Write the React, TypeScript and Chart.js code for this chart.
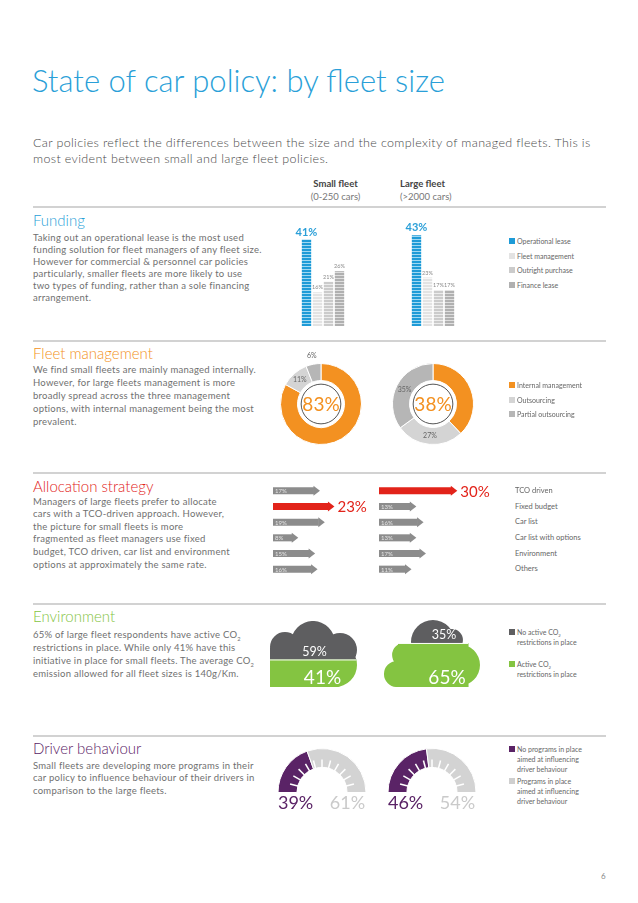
import React, { useEffect, useRef } from 'react';
import { Chart, registerables } from 'chart.js';
Chart.register(...registerables);

// ---------- DATA ----------
const fundingCategories = ['Operational lease', 'Fleet management', 'Outright purchase', 'Finance lease'];
const fundingSmall = [41, 16, 21, 26];
const fundingLarge = [43, 23, 17, 17];

const fleetMgmtCategories = ['Internal management', 'Outsourcing', 'Partial outsourcing'];
const fleetMgmtSmall = [83, 11, 6];
const fleetMgmtLarge = [38, 27, 35];

const allocationCategories = ['TCO driven', 'Fixed budget', 'Car list', 'Car list with options', 'Environment', 'Others'];
const allocationSmall = [17, 23, 19, 8, 15, 16];
const allocationLarge = [30, 13, 16, 13, 17, 11];

const environmentCategories = ['No active CO2 restrictions in place', 'Active CO2 restrictions in place'];
const environmentSmall = [59, 41];
const environmentLarge = [35, 65];

const driverCategories = ['No programs in place aimed at influencing driver behaviour', 'Programs in place aimed at influencing driver behaviour'];
const driverSmall = [39, 61];
const driverLarge = [46, 54];

// ---------- STYLE ----------
const FONT = 'Lato, "Open Sans", sans-serif';
const BLUE = '#2a9fd8';
const ORANGE = '#f39121';
const RED = '#e2231a';
const GREEN = '#84c441';
const DARK = '#5e5e60';
const PURPLE = '#5a2366';
const TEXT = '#707070';

const fundingColors = ['#1e9bd7', '#e3e3e3', '#cbcbcb', '#b0b0b0'];
const fundingStripes = ['#9fd8f2', '#f7f7f7', '#ececec', '#dedede'];
const fleetColors = [ORANGE, '#d4d4d4', '#b6b6b6'];

function stripePattern(color: string, light: string) {
  const c = document.createElement('canvas');
  c.width = 4;
  c.height = 3;
  const g = c.getContext('2d')!;
  g.fillStyle = color;
  g.fillRect(0, 0, 4, 3);
  g.fillStyle = light;
  g.fillRect(0, 2, 4, 1);
  return g.createPattern(c, 'repeat')!;
}

function ChartBox({ left, top, width, height, make }: { left: number; top: number; width: number; height: number; make: () => any }) {
  const ref = useRef<HTMLCanvasElement>(null);
  useEffect(() => {
    const chart = new Chart(ref.current!, make());
    return () => chart.destroy();
  }, []);
  return (
    <canvas
      ref={ref}
      width={width}
      height={height}
      style={{ position: 'absolute', left, top, width, height }}
    />
  );
}

const baseOpts = {
  responsive: false,
  animation: false as const,
  devicePixelRatio: 1,
  events: [] as any[],
  plugins: { legend: { display: false }, tooltip: { enabled: false } },
};

// ---------- CHART CONFIGS ----------
function fundingConfig() {
  const labelPlugin = {
    id: 'fundingLabels',
    afterDatasetsDraw(chart: any) {
      const ctx = chart.ctx;
      chart.data.datasets.forEach((ds: any, di: number) => {
        chart.getDatasetMeta(di).data.forEach((el: any, j: number) => {
          ctx.save();
          ctx.textAlign = 'center';
          ctx.textBaseline = 'bottom';
          if (di === 0) {
            ctx.fillStyle = BLUE;
            ctx.font = `bold 11px ${FONT}`;
            ctx.fillText(ds.data[j] + '%', el.x, el.y - 2);
          } else {
            ctx.fillStyle = '#8a8a8a';
            ctx.font = `5.5px ${FONT}`;
            ctx.fillText(ds.data[j] + '%', el.x, el.y - 2);
          }
          ctx.restore();
        });
      });
    },
  };
  return {
    type: 'bar',
    data: {
      labels: ['Small fleet', 'Large fleet'],
      datasets: fundingCategories.map((name, i) => ({
        label: name,
        data: [fundingSmall[i], fundingLarge[i]],
        backgroundColor: stripePattern(fundingColors[i], fundingStripes[i]),
        categoryPercentage: 0.4,
        barPercentage: 0.85,
      })),
    },
    options: {
      ...baseOpts,
      scales: {
        x: { display: false },
        y: { display: false, min: 0, max: 55 },
      },
    },
    plugins: [labelPlugin],
  };
}

function donutConfig(values: number[]) {
  const decor = {
    id: 'donutDecor',
    afterDatasetsDraw(chart: any) {
      const ctx = chart.ctx;
      const arcs = chart.getDatasetMeta(0).data;
      const a0 = arcs[0];
      const cx = a0.x, cy = a0.y;
      const outer = a0.outerRadius, inner = a0.innerRadius;
      ctx.save();
      ctx.beginPath();
      ctx.arc(cx, cy, outer * 0.49, 0, Math.PI * 2);
      ctx.strokeStyle = '#555';
      ctx.lineWidth = 1;
      ctx.stroke();
      ctx.fillStyle = ORANGE;
      ctx.font = `19px ${FONT}`;
      ctx.textAlign = 'center';
      ctx.textBaseline = 'middle';
      ctx.fillText(values[0] + '%', cx, cy + 1);
      ctx.font = `7px ${FONT}`;
      ctx.fillStyle = '#666';
      arcs.forEach((arc: any, i: number) => {
        if (i === 0) return;
        const mid = (arc.startAngle + arc.endAngle) / 2;
        const r = values[i] < 8 ? outer + 9 : (inner + outer) / 2;
        ctx.fillText(values[i] + '%', cx + Math.cos(mid) * r, cy + Math.sin(mid) * r);
      });
      ctx.restore();
    },
  };
  return {
    type: 'doughnut',
    data: {
      labels: fleetMgmtCategories,
      datasets: [{ data: values, backgroundColor: fleetColors, borderWidth: 1, borderColor: '#fff' }],
    },
    options: { ...baseOpts, cutout: '58%', layout: { padding: 19 } },
    plugins: [decor],
  };
}

function allocationConfig(values: number[], max: number) {
  const top = Math.max(...values);
  const arrows = {
    id: 'arrows',
    afterDatasetsDraw(chart: any) {
      const ctx = chart.ctx;
      chart.getDatasetMeta(0).data.forEach((el: any, i: number) => {
        const hi = values[i] === top;
        ctx.save();
        ctx.fillStyle = hi ? RED : '#8c8c8c';
        ctx.beginPath();
        ctx.moveTo(el.x - 0.5, el.y - 5);
        ctx.lineTo(el.x + 6, el.y);
        ctx.lineTo(el.x - 0.5, el.y + 5);
        ctx.closePath();
        ctx.fill();
        ctx.textBaseline = 'middle';
        if (hi) {
          ctx.font = `15px ${FONT}`;
          ctx.fillStyle = RED;
          ctx.fillText(values[i] + '%', el.x + 9, el.y + 1);
        } else {
          ctx.font = `6px ${FONT}`;
          ctx.fillStyle = '#e4e4e4';
          ctx.fillText(values[i] + '%', el.base + 2, el.y + 0.5);
        }
        ctx.restore();
      });
    },
  };
  return {
    type: 'bar',
    data: {
      labels: allocationCategories,
      datasets: [{
        data: values,
        backgroundColor: values.map(v => (v === top ? RED : '#8c8c8c')),
        barPercentage: 0.45,
        categoryPercentage: 1,
      }],
    },
    options: {
      ...baseOpts,
      indexAxis: 'y',
      scales: { x: { display: false, min: 0, max }, y: { display: false } },
    },
    plugins: [arrows],
  };
}

type Blob = { u: number; v: number; r?: number; w?: number; h?: number };

function cloudConfig(values: number[], shape: Blob[], dx: [number, number]) {
  const clip = {
    id: 'cloudClip',
    beforeDatasetsDraw(chart: any) {
      const { ctx, chartArea: a } = chart;
      const W = a.right - a.left, H = a.bottom - a.top;
      ctx.save();
      ctx.beginPath();
      shape.forEach(s => {
        const x = a.left + s.u * W, y = a.top + s.v * H;
        if (s.r !== undefined) {
          ctx.moveTo(x + s.r * W, y);
          ctx.arc(x, y, s.r * W, 0, Math.PI * 2);
        } else {
          ctx.rect(x, y, (s.w as number) * W, (s.h as number) * H);
        }
      });
      ctx.clip();
    },
    afterDatasetsDraw(chart: any) {
      const { ctx, chartArea: a } = chart;
      const green = chart.getDatasetMeta(0).data[0];
      const divY = green.y;
      ctx.strokeStyle = '#fff';
      ctx.lineWidth = 1;
      ctx.beginPath();
      ctx.moveTo(a.left, divY);
      ctx.lineTo(a.right, divY);
      ctx.stroke();
      ctx.restore();
      const cx = (a.left + a.right) / 2;
      ctx.save();
      ctx.fillStyle = '#fff';
      ctx.textAlign = 'center';
      ctx.textBaseline = 'middle';
      ctx.font = `12.5px ${FONT}`;
      ctx.fillText(values[0] + '%', cx + dx[0], divY - 8);
      ctx.font = `19px ${FONT}`;
      ctx.fillText(values[1] + '%', cx + dx[1], a.bottom - 9);
      ctx.restore();
    },
  };
  return {
    type: 'bar',
    data: {
      labels: ['fleet'],
      datasets: [
        { label: environmentCategories[1], data: [values[1]], backgroundColor: GREEN, stack: 's', barPercentage: 1, categoryPercentage: 1 },
        { label: environmentCategories[0], data: [values[0]], backgroundColor: DARK, stack: 's', barPercentage: 1, categoryPercentage: 1 },
      ],
    },
    options: {
      ...baseOpts,
      scales: {
        x: { display: false, stacked: true },
        y: { display: false, stacked: true, min: 0, max: 100 },
      },
    },
    plugins: [clip],
  };
}

function gaugeConfig(values: number[]) {
  const decor = {
    id: 'gaugeDecor',
    afterDatasetsDraw(chart: any) {
      const ctx = chart.ctx;
      const arc = chart.getDatasetMeta(0).data[0];
      const cx = arc.x, cy = arc.y, inner = arc.innerRadius, outer = arc.outerRadius;
      ctx.save();
      ctx.strokeStyle = '#fff';
      ctx.lineWidth = 1.5;
      for (let k = 1; k < 12; k++) {
        const ang = Math.PI + (k * Math.PI) / 12;
        ctx.beginPath();
        ctx.moveTo(cx + Math.cos(ang) * (inner - 1), cy + Math.sin(ang) * (inner - 1));
        ctx.lineTo(cx + Math.cos(ang) * (inner + 8), cy + Math.sin(ang) * (inner + 8));
        ctx.stroke();
      }
      ctx.font = `18px ${FONT}`;
      ctx.textAlign = 'center';
      ctx.textBaseline = 'middle';
      ctx.fillStyle = PURPLE;
      ctx.fillText(values[0] + '%', cx - outer * 0.6, cy + 11);
      ctx.fillStyle = '#cacaca';
      ctx.fillText(values[1] + '%', cx + outer * 0.58, cy + 11);
      ctx.restore();
    },
  };
  return {
    type: 'doughnut',
    data: {
      labels: driverCategories,
      datasets: [{ data: values, backgroundColor: [PURPLE, '#d3d3d3'], borderWidth: 1, borderColor: '#fff' }],
    },
    options: {
      ...baseOpts,
      rotation: -90,
      circumference: 180,
      cutout: '57%',
      layout: { padding: { left: 5, right: 5, top: 2, bottom: 24 } },
    },
    plugins: [decor],
  };
}

const leftCloud: Blob[] = [
  { u: 0, v: 0.41, w: 0.8, h: 0.59 },
  { u: 0.747, v: 0.667, r: 0.253 },
  { u: 0.172, v: 0.394, r: 0.172 },
  { u: 0.494, v: 0.333, r: 0.253 },
  { u: 0.805, v: 0.44, r: 0.195 },
];
const rightCloud: Blob[] = [
  { u: 0.163, v: 0.343, w: 0.72, h: 0.657 },
  { u: 0.225, v: 0.522, r: 0.122 },
  { u: 0.153, v: 0.806, r: 0.133 },
  { u: 0.786, v: 0.672, r: 0.214 },
  { u: 0.52, v: 0.328, r: 0.224 },
  { u: 0.714, v: 0.3, r: 0.112 },
];

// ---------- TEXT HELPERS ----------
function Txt({ x, y, size, color, children, weight = 400, lh, center, ls }: any) {
  const l = lh ?? size;
  return (
    <div
      style={{
        position: 'absolute',
        left: center ? x - 100 : x,
        width: center ? 200 : undefined,
        textAlign: center ? 'center' : 'left',
        top: y - l / 2,
        fontSize: size,
        lineHeight: `${l}px`,
        letterSpacing: ls ?? 0,
        color,
        fontWeight: weight,
        whiteSpace: 'nowrap',
      }}
    >
      {children}
    </div>
  );
}

function Para({ y, lh, lines }: { y: number; lh: number; lines: React.ReactNode[] }) {
  return (
    <Txt x={33} y={y} size={9.5} color={TEXT} lh={lh} ls={0.25}>
      {lines.map((l, i) => (
        <div key={i}>{l}</div>
      ))}
    </Txt>
  );
}

function Rule({ y }: { y: number }) {
  return <div style={{ position: 'absolute', left: 33, top: y - 1, width: 573, height: 2, background: '#d2d2d2' }} />;
}

function Legend({ x, y, color, lines }: { x: number; y: number; color?: string; lines: React.ReactNode[] }) {
  return (
    <>
      {color && <div style={{ position: 'absolute', left: x, top: y - 3, width: 6, height: 6, background: color }} />}
      <Txt x={x + 8} y={y} size={7} color="#666" lh={10}>
        {lines.map((l, i) => (
          <div key={i}>{l}</div>
        ))}
      </Txt>
    </>
  );
}

const CO2 = (
  <>
    CO<sub style={{ fontSize: '0.6em', verticalAlign: 'sub', lineHeight: 0 }}>2</sub>
  </>
);

export default function App() {
  return (
    <div
      style={{
        position: 'absolute',
        left: 0,
        top: 0,
        width: 638,
        height: 903,
        background: '#fff',
        fontFamily: FONT,
        overflow: 'hidden',
      }}
    >
      <Txt x={32} y={80} size={31} color={BLUE} weight={300} lh={38}>
        State of car policy: by fleet size
      </Txt>
      <Txt x={33} y={143} size={12.5} color="#4a4a4a" weight={300} lh={15.5} ls={0.35}>
        <div>Car policies reflect the differences between the size and the complexity of managed fleets. This is</div>
        <div>most evident between small and large fleet policies.</div>
      </Txt>

      <Txt x={335.5} y={184} size={9.5} color="#444" weight={700} center>Small fleet</Txt>
      <Txt x={335.5} y={197} size={9.5} color="#777" center>(0-250 cars)</Txt>
      <Txt x={400} y={184} size={9.5} color="#444" weight={700}>Large fleet</Txt>
      <Txt x={400} y={197} size={9.5} color="#777">(&gt;2000 cars)</Txt>

      {/* Funding */}
      <Rule y={207} />
      <Txt x={33} y={220} size={15} color={BLUE} weight={300}>Funding</Txt>
      <Para
        y={238}
        lh={11.9}
        lines={[
          'Taking out an operational lease is the most  used',
          'funding solution for fleet managers of any fleet size.',
          'However for commercial & personnel car policies',
          'particularly, smaller fleets are more likely to use',
          'two types of funding, rather than a sole financing',
          'arrangement.',
        ]}
      />
      <ChartBox left={268} top={210} width={220} height={116} make={fundingConfig} />
      {fundingCategories.map((c, i) => (
        <Legend key={c} x={509} y={241 + i * 14.7} color={fundingColors[i]} lines={[c]} />
      ))}

      {/* Fleet management */}
      <Rule y={341} />
      <Txt x={33} y={353} size={15} color={ORANGE} weight={300}>Fleet management</Txt>
      <Para
        y={369}
        lh={13}
        lines={[
          'We find small fleets are mainly managed internally.',
          'However, for large fleets management is more',
          'broadly spread across the three management',
          'options, with internal management being the most',
          'prevalent.',
        ]}
      />
      <ChartBox left={261} top={344} width={120} height={120} make={() => donutConfig(fleetMgmtSmall)} />
      <ChartBox left={373} top={344} width={120} height={120} make={() => donutConfig(fleetMgmtLarge)} />
      {fleetMgmtCategories.map((c, i) => (
        <Legend key={c} x={509} y={385 + i * 14.5} color={fleetColors[i]} lines={[c]} />
      ))}

      {/* Allocation strategy */}
      <Rule y={472.5} />
      <Txt x={33} y={486} size={15} color={RED} weight={300}>Allocation strategy</Txt>
      <Para
        y={502}
        lh={12.6}
        lines={[
          'Managers of large fleets prefer to allocate',
          'cars with a TCO-driven approach. However,',
          'the picture for small fleets is more',
          'fragmented as fleet managers use fixed',
          'budget, TCO driven, car list and environment',
          'options at approximately the same rate.',
        ]}
      />
      <ChartBox left={273} top={483} width={105} height={94} make={() => allocationConfig(allocationSmall, 105 / 2.41)} />
      <ChartBox left={379} top={483} width={125} height={94} make={() => allocationConfig(allocationLarge, 125 / 2.41)} />
      {allocationCategories.map((c, i) => (
        <Txt key={c} x={515} y={491 + i * 15.6} size={7.5} color="#666">{c}</Txt>
      ))}

      {/* Environment */}
      <Rule y={604} />
      <Txt x={33} y={616} size={15} color={GREEN} weight={300}>Environment</Txt>
      <Para
        y={634}
        lh={13}
        lines={[
          <>65% of large fleet respondents have active {CO2}</>,
          'restrictions in place. While only 41% have this',
          <>initiative in place for small fleets.  The average {CO2}</>,
          'emission allowed for all  fleet sizes is 140g/Km.',
        ]}
      />
      <ChartBox left={270} top={621} width={87} height={66} make={() => cloudConfig(environmentSmall, leftCloud, [1, 9])} />
      <ChartBox left={382} top={620} width={98} height={67} make={() => cloudConfig(environmentLarge, rightCloud, [13, 16])} />
      <Legend x={509} y={632} color={DARK} lines={[<>No active {CO2}</>, 'restrictions in place']} />
      <Legend x={509} y={664} color={GREEN} lines={[<>Active {CO2}</>, 'restrictions in place']} />

      {/* Driver behaviour */}
      <Rule y={735.5} />
      <Txt x={33} y={748} size={15} color={PURPLE} weight={300}>Driver behaviour</Txt>
      <Para
        y={766}
        lh={12.5}
        lines={[
          'Small fleets are developing more programs in their',
          'car policy to influence behaviour of their drivers in',
          'comparison to the large fleets.',
        ]}
      />
      <ChartBox left={272} top={746} width={100} height={71} make={() => gaugeConfig(driverSmall)} />
      <ChartBox left={382} top={746} width={100} height={71} make={() => gaugeConfig(driverLarge)} />
      <Legend x={509} y={749} color={PURPLE} lines={['No programs in place', 'aimed at influencing', 'driver behaviour']} />
      <Legend x={509} y={781} color="#cfcfcf" lines={['Programs in place', 'aimed at influencing', 'driver behaviour']} />

      <Txt x={601} y={876} size={8} color="#888">6</Txt>
    </div>
  );
}
